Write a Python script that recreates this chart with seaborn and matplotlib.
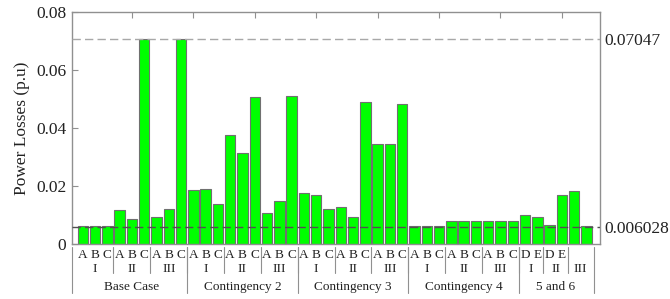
import pandas as pd
import seaborn as sns
import matplotlib.pyplot as plt

# bar values (p.u), in plotting order
base_case = [0.0064, 0.0064, 0.0064, 0.0118, 0.0087, 0.07047, 0.0093, 0.0122, 0.07047]
contingency2 = [0.0187, 0.0190, 0.0140, 0.0376, 0.0313, 0.0507, 0.0107, 0.0148, 0.0510]
contingency3 = [0.0175, 0.0170, 0.0122, 0.0127, 0.0093, 0.0488, 0.0346, 0.0346, 0.0484]
contingency4 = [0.0064, 0.0064, 0.0064, 0.0079, 0.0079, 0.0079, 0.0079, 0.0079, 0.0079]
cont_5_6 = [0.0102, 0.0093, 0.0066, 0.0170, 0.0183, 0.0063]

group_names = ["Base Case", "Contingency 2", "Contingency 3", "Contingency 4", "5 and 6"]
group_sizes = [9, 9, 9, 9, 6]
sub_labels = ["I", "II", "III"] * 5
sub_sizes = [3] * 12 + [2, 2, 2]
bar_letters = ["A", "B", "C"] * 12 + ["D", "E", "D", "E", "", ""]

ref_values = [0.07047, 0.006028]
ref_labels = ["0.07047", "0.006028"]
y_ticks = [0, 0.02, 0.04, 0.06, 0.08]
y_ticklabels = ["0", "0.02", "0.04", "0.06", "0.08"]

losses = base_case + contingency2 + contingency3 + contingency4 + cont_5_6
df = pd.DataFrame({"pos": range(1, len(losses) + 1), "loss": losses})

sns.set_theme(style="white")
plt.rcParams["font.family"] = ["Liberation Serif", "DejaVu Serif"]

fig = plt.figure(figsize=(6.7, 2.99), dpi=100)
ax = fig.add_axes([0.107, 0.183, 0.7885, 0.778])

sns.barplot(data=df, x="pos", y="loss", native_scale=True, color="#00ff00",
            saturation=1, edgecolor="#707070", linewidth=0.8, width=0.85,
            errorbar=None, ax=ax, zorder=2)

ax.set_xlim(0.1, 43.1)
ax.set_ylim(0, 0.08)

# reference dashed lines
ax.axhline(ref_values[0], color="#a8a8a8", lw=1.0, ls=(0, (6, 3)), zorder=3)
ax.axhline(ref_values[1], color="#505050", lw=1.0, ls=(0, (6, 3)), zorder=3)

for s in ax.spines.values():
    s.set_color("#909090")
    s.set_linewidth(1.0)

ax.set_yticks(y_ticks)
ax.set_yticklabels(y_ticklabels)
ax.tick_params(axis="y", which="both", direction="in", length=4, width=0.8,
               color="#909090", left=True, right=True, labelsize=12.5,
               labelcolor="#222222", pad=4)
ax.set_xticks(range(5, 45, 5))
ax.tick_params(axis="x", which="both", direction="in", length=4, width=0.8,
               color="#909090", bottom=False, top=True, labelbottom=False)
ax.set_xlabel("")
ax.set_ylabel("Power Losses (p.u)", fontsize=12.5, color="#222222", labelpad=4)

# right hand labels for the reference lines
ax2 = ax.twinx()
ax2.set_ylim(ax.get_ylim())
ax2.set_yticks(ref_values)
ax2.set_yticklabels(ref_labels)
ax2.tick_params(axis="y", length=0, pad=3, labelsize=12.5, labelcolor="#222222")
for s in ax2.spines.values():
    s.set_visible(False)
ax2.grid(False)

# hierarchical category labels below the axis
tr = ax.get_xaxis_transform()
txt_kw = dict(transform=tr, ha="center", va="center", fontsize=9.5,
              color="#222222", clip_on=False)
line_kw = dict(transform=tr, color="#909090", lw=0.8, clip_on=False)

for i, let in enumerate(bar_letters):
    ax.text(i + 1, -0.048, let, **txt_kw)

start = 0.5
for lab, n in zip(sub_labels, sub_sizes):
    ax.text(start + n / 2, -0.108, lab, **txt_kw)
    start += n
    if start < len(losses):
        ax.plot([start, start], [-0.012, -0.125], **line_kw)

start = 0.5
ax.plot([0.15, 0.15], [-0.012, -0.21], **line_kw)
for lab, n in zip(group_names, group_sizes):
    ax.text(start + n / 2, -0.182, lab, **txt_kw)
    start += n
    end = start if start < len(losses) else 42.6
    ax.plot([end, end], [-0.012, -0.21], **line_kw)

fig.savefig("out.png", dpi=100)
